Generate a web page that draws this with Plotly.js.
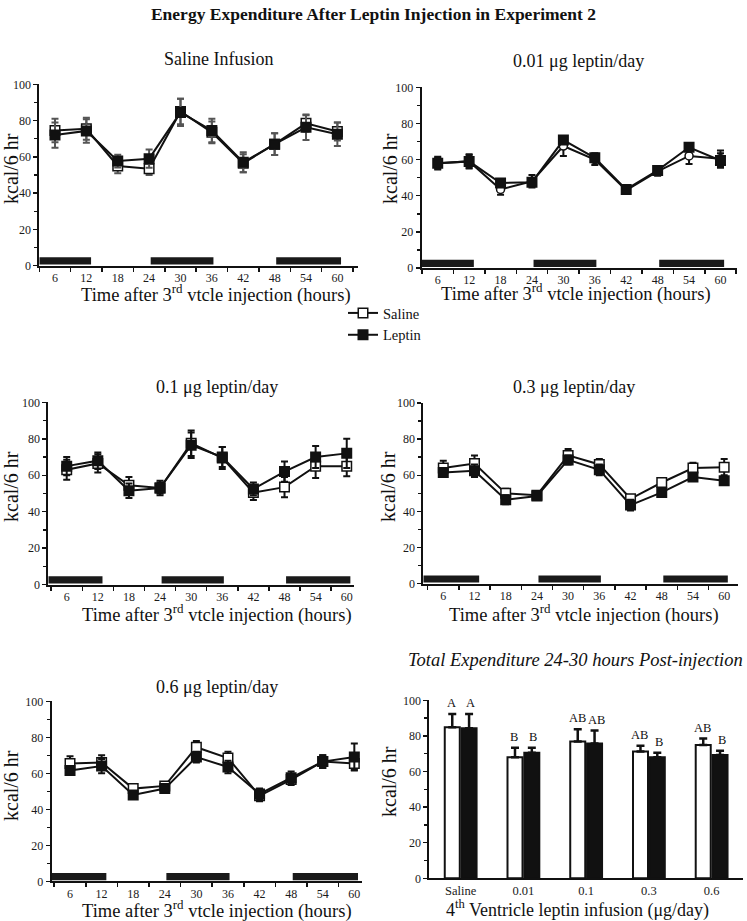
<!DOCTYPE html>
<html>
<head>
<meta charset="utf-8">
<script src="https://cdn.plot.ly/plotly-3.0.1.min.js"></script>
<style>html,body{margin:0;padding:0;background:#fff;}#chart{width:747px;height:921px;}</style>
</head>
<body>
<div id="chart"></div>
<script>
// ---------- DATA ----------
const hours = [6, 12, 18, 24, 30, 36, 42, 48, 54, 60];
const hourLabels = ['6', '12', '18', '24', '30', '36', '42', '48', '54', '60'];

// Saline Infusion
const p1Saline    = [74.5, 75.5, 55, 53.5, 85, 73.5, 56.5, 67, 78.5, 74];
const p1SalineErr = [6.5, 6, 4, 3.5, 7, 6, 5, 6, 4.5, 5];
const p1Leptin    = [72, 74.3, 57.7, 59, 84.5, 74.5, 57, 67, 76.3, 72.5];
const p1LeptinErr = [7, 6.5, 3.5, 5, 7.5, 6.5, 5.5, 6, 7, 6.5];

// 0.01 ug leptin/day
const p2Saline    = [58, 59, 43.5, 48, 67.5, 60, 43, 53.5, 62, 60.5];
const p2SalineErr = [3, 4, 3, 3.5, 5.5, 3, 2, 2.5, 4.5, 4.5];
const p2Leptin    = [58, 59, 47, 47.5, 70.8, 61, 43.5, 54, 66.8, 59.5];
const p2LeptinErr = [3.5, 3.5, 2, 2, 1.5, 2.5, 2, 2, 1.5, 4];

// 0.1 ug leptin/day
const p3Saline    = [63, 66.5, 54.5, 53, 77.5, 69.5, 50.5, 53.5, 65, 65];
const p3SalineErr = [5.5, 5, 4.5, 4, 7, 6, 4, 5.5, 6.5, 5.5];
const p3Leptin    = [65, 68, 51.5, 53, 76.5, 70, 52.5, 62, 70, 72];
const p3LeptinErr = [5, 4.5, 4, 3, 7, 5.5, 3.5, 5.5, 6, 8];

// 0.3 ug leptin/day
const p4Saline    = [64, 66.5, 50, 49, 71, 66, 47, 56, 64, 64.5];
const p4SalineErr = [4, 4.5, 2.5, 1.5, 3.5, 3, 2, 2.5, 3, 4.5];
const p4Leptin    = [61.5, 62.5, 46.5, 48.5, 68.5, 63, 43.5, 50.5, 59, 57];
const p4LeptinErr = [2, 3.5, 2.5, 1, 2.5, 3, 3, 1.5, 1.5, 1.5];

// 0.6 ug leptin/day
const p5Saline    = [65.5, 66, 51.5, 53, 74.5, 68.5, 47.5, 56.5, 66.5, 65.5];
const p5SalineErr = [4, 4, 1.5, 1.5, 3.5, 3.5, 3, 3, 3.5, 3.5];
const p5Leptin    = [61.5, 64, 48, 51.5, 69, 63.5, 48.5, 57.5, 66.5, 69];
const p5LeptinErr = [2, 4, 1.5, 1.5, 3, 3.5, 3, 3.5, 3.5, 7.5];

// dark periods (hours)
const darkStart = [0, 24.3, 48.3];
const darkEnd   = [12.9, 36.3, 60.7];

// Total expenditure 24-30 h
const groups          = ['Saline', '0.01', '0.1', '0.3', '0.6'];
const barSaline       = [84.8, 68, 76.8, 71.2, 74.9];
const barSalineErr    = [7.5, 5.4, 6.9, 3.3, 3.6];
const barLeptin       = [84.3, 70.6, 75.8, 68, 69.3];
const barLeptinErr    = [8, 2.8, 7.2, 2.6, 2.4];
const lettersSaline   = ['A', 'B', 'AB', 'AB', 'AB'];
const lettersLeptin   = ['A', 'B', 'AB', 'B', 'B'];
const noDownErr       = [0, 0, 0, 0, 0];

// ---------- LAYOUT HELPERS ----------
const W = 747, H = 921;
const SERIF = 'Liberation Serif';
const px2x = p => p / W;
const px2y = p => 1 - p / H;

const panels = [
  {title: 'Saline Infusion',    s: p1Saline, se: p1SalineErr, l: p1Leptin, le: p1LeptinErr,
   xdom: [39.3, 358.3], xr: [3, 64],   ydom: [84.3, 265.7], sym: 'square', errColor: '#555',
   tpos: [219, 59], ytpos: [11, 169], xtpos: [216, 294]},
  {title: '0.01 μg leptin/day', s: p2Saline, se: p2SalineErr, l: p2Leptin, le: p2LeptinErr,
   xdom: [421.7, 736.7], xr: [2.94, 63.1], ydom: [87.3, 268], sym: 'circle', errColor: '#111',
   tpos: [578, 61], ytpos: [390, 169], xtpos: [576, 293]},
  {title: '0.1 μg leptin/day',  s: p3Saline, se: p3SalineErr, l: p3Leptin, le: p3LeptinErr,
   xdom: [48.3, 354], xr: [2.45, 61.4], ydom: [402.3, 584.7], sym: 'square', errColor: '#111',
   tpos: [217, 387], ytpos: [11, 487], xtpos: [217, 613]},
  {title: '0.3 μg leptin/day',  s: p4Saline, se: p4SalineErr, l: p4Leptin, le: p4LeptinErr,
   xdom: [423.3, 737.7], xr: [2.16, 62.6], ydom: [403, 583.7], sym: 'square', errColor: '#111',
   tpos: [574, 387], ytpos: [388, 487], xtpos: [584, 613]},
  {title: '0.6 μg leptin/day',  s: p5Saline, se: p5SalineErr, l: p5Leptin, le: p5LeptinErr,
   xdom: [51.7, 361.7], xr: [2.52, 61.4], ydom: [701.3, 881.3], sym: 'square', errColor: '#111',
   tpos: [217, 687], ytpos: [11, 786], xtpos: [217, 909]}
];

const tf = () => ({family: SERIF, size: 12, color: '#1a1a1a'});
const traces = [];
const layout = {
  width: W, height: H,
  margin: {l: 0, r: 0, t: 0, b: 0},
  font: {family: SERIF, size: 12, color: '#111'},
  paper_bgcolor: 'white', plot_bgcolor: 'rgba(0,0,0,0)',
  showlegend: true,
  legend: {x: px2x(343), y: px2y(297), xanchor: 'left', yanchor: 'top',
           font: {family: SERIF, size: 14.5, color: '#111'}, bgcolor: 'rgba(0,0,0,0)',
           itemwidth: 30, tracegroupgap: 0},
  title: {text: '<b>Energy Expenditure After Leptin Injection in Experiment 2</b>',
          font: {family: SERIF, size: 17.5, color: '#111'},
          x: 0.5, xanchor: 'center', y: px2y(14), yanchor: 'middle'},
  shapes: [], annotations: [],
  bargap: 0.464, bargroupgap: 0.107, barmode: 'group'
};

function ax(i, kind) { return i === 0 ? kind : kind + (i + 1); }

panels.forEach((p, i) => {
  const xa = ax(i, 'x'), ya = ax(i, 'y');
  const xk = i === 0 ? 'xaxis' : 'xaxis' + (i + 1);
  const yk = i === 0 ? 'yaxis' : 'yaxis' + (i + 1);
  layout[xk] = {
    domain: [px2x(p.xdom[0]), px2x(p.xdom[1])], range: p.xr, anchor: ya,
    showline: true, linewidth: 2, linecolor: '#111', showgrid: false, zeroline: false,
    tickmode: 'array', tickvals: hours, ticktext: hourLabels,
    ticks: 'outside', ticklen: 0, tickcolor: 'rgba(0,0,0,0)', tickfont: tf(),
    minor: {ticks: 'outside', tickmode: 'linear', tick0: 3, dtick: 6, ticklen: 4, tickwidth: 1.5, tickcolor: '#111', showgrid: false},
    fixedrange: true
  };
  layout[yk] = {
    domain: [px2y(p.ydom[1]), px2y(p.ydom[0])], range: [0, 100], anchor: xa,
    showline: true, linewidth: 2, linecolor: '#111', showgrid: false, zeroline: false,
    tickmode: 'linear', tick0: 0, dtick: 20, ticks: 'outside', ticklen: 4, tickwidth: 1.5, tickcolor: '#111',
    tickfont: tf(),
    minor: {ticks: 'outside', tickmode: 'linear', tick0: 0, dtick: 10, ticklen: 3, tickwidth: 1.5, tickcolor: '#111', showgrid: false},
    fixedrange: true
  };
  // dark periods
  darkStart.forEach((d, k) => {
    layout.shapes.push({type: 'rect', xref: xa, yref: ya, layer: 'below',
      x0: Math.max(d, p.xr[0]), x1: darkEnd[k], y0: 0.6, y1: 4.6,
      fillcolor: '#1a1a1a', line: {width: 0}});
  });
  const mk = (y, err, fill, name, sym) => ({
    type: 'scatter', mode: 'lines+markers', x: hours, y: y, xaxis: xa, yaxis: ya,
    name: name, legendgroup: name, showlegend: i === 0,
    line: {color: '#111', width: 2},
    marker: {symbol: sym, size: sym === 'circle' ? 8 : 9.5, color: fill, line: {color: '#111', width: 1.5}},
    error_y: {type: 'data', array: err, visible: true, color: p.errColor, thickness: 2, width: 3.5},
    hoverinfo: 'skip'
  });
  traces.push(mk(p.s, p.se, 'white', 'Saline', p.sym));
  traces.push(mk(p.l, p.le, '#111', 'Leptin', 'square'));

  layout.annotations.push({xref: 'paper', yref: 'paper', x: px2x(p.tpos[0]), y: px2y(p.tpos[1]),
    xanchor: 'center', yanchor: 'middle', showarrow: false, text: p.title,
    font: {family: SERIF, size: 18, color: '#111'}});
  layout.annotations.push({xref: 'paper', yref: 'paper', x: px2x(p.ytpos[0]), y: px2y(p.ytpos[1]),
    xanchor: 'center', yanchor: 'middle', showarrow: false, text: 'kcal/6 hr', textangle: -90,
    font: {family: SERIF, size: 20, color: '#111'}});
  layout.annotations.push({xref: 'paper', yref: 'paper', x: px2x(p.xtpos[0]), y: px2y(p.xtpos[1]),
    xanchor: 'center', yanchor: 'middle', showarrow: false,
    text: 'Time after 3<sup>rd</sup> vtcle injection (hours)',
    font: {family: SERIF, size: 18.5, color: '#111'}});
});

// ---------- bar panel ----------
layout.xaxis6 = {
  domain: [px2x(429.3), px2x(743)], range: [-0.5, 4.5], type: 'category', anchor: 'y6',
  showline: true, linewidth: 2, linecolor: '#111', showgrid: false, zeroline: false,
  ticks: '', tickfont: {family: SERIF, size: 12.5, color: '#1a1a1a'}, fixedrange: true
};
layout.yaxis6 = {
  domain: [px2y(878.3), px2y(700.3)], range: [0, 100], anchor: 'x6',
  showline: true, linewidth: 2, linecolor: '#111', showgrid: false, zeroline: false,
  tickmode: 'linear', tick0: 0, dtick: 20, ticks: 'outside', ticklen: 4, tickwidth: 1.5, tickcolor: '#111',
  tickfont: tf(),
  minor: {ticks: 'outside', tickmode: 'linear', tick0: 0, dtick: 10, ticklen: 3, tickwidth: 1.5, tickcolor: '#111', showgrid: false},
  fixedrange: true
};
traces.push({type: 'bar', x: groups, y: barSaline, xaxis: 'x6', yaxis: 'y6', name: 'Saline', showlegend: false,
  marker: {color: 'white', line: {color: '#111', width: 2}},
  error_y: {type: 'data', symmetric: false, array: barSalineErr, arrayminus: noDownErr, color: '#111', thickness: 2.5, width: 4},
  hoverinfo: 'skip'});
traces.push({type: 'bar', x: groups, y: barLeptin, xaxis: 'x6', yaxis: 'y6', name: 'Leptin', showlegend: false,
  marker: {color: '#111', line: {color: '#111', width: 2}},
  error_y: {type: 'data', symmetric: false, array: barLeptinErr, arrayminus: noDownErr, color: '#111', thickness: 2.5, width: 4},
  hoverinfo: 'skip'});

groups.forEach((g, k) => {
  layout.annotations.push({xref: 'x6', yref: 'y6', x: k, y: barSaline[k] + barSalineErr[k], xshift: -9, yshift: 2,
    yanchor: 'bottom', showarrow: false, text: lettersSaline[k], font: {family: SERIF, size: 12.5, color: '#111'}});
  layout.annotations.push({xref: 'x6', yref: 'y6', x: k, y: barLeptin[k] + barLeptinErr[k], xshift: 10, yshift: 2,
    yanchor: 'bottom', showarrow: false, text: lettersLeptin[k], font: {family: SERIF, size: 12.5, color: '#111'}});
});

layout.annotations.push({xref: 'paper', yref: 'paper', x: px2x(575), y: px2y(660), xanchor: 'center', yanchor: 'middle',
  showarrow: false, text: '<i>Total Expenditure 24-30 hours Post-injection</i>', font: {family: SERIF, size: 18.5, color: '#111'}});
layout.annotations.push({xref: 'paper', yref: 'paper', x: px2x(389), y: px2y(782), xanchor: 'center', yanchor: 'middle',
  showarrow: false, text: 'kcal/6 hr', textangle: -90, font: {family: SERIF, size: 20, color: '#111'}});
layout.annotations.push({xref: 'paper', yref: 'paper', x: px2x(577), y: px2y(909), xanchor: 'center', yanchor: 'middle',
  showarrow: false, text: '4<sup>th</sup> Ventricle leptin infusion (μg/day)', font: {family: SERIF, size: 18, color: '#111'}});

Plotly.newPlot('chart', traces, layout, {staticPlot: true, displayModeBar: false});
</script>
</body>
</html>
